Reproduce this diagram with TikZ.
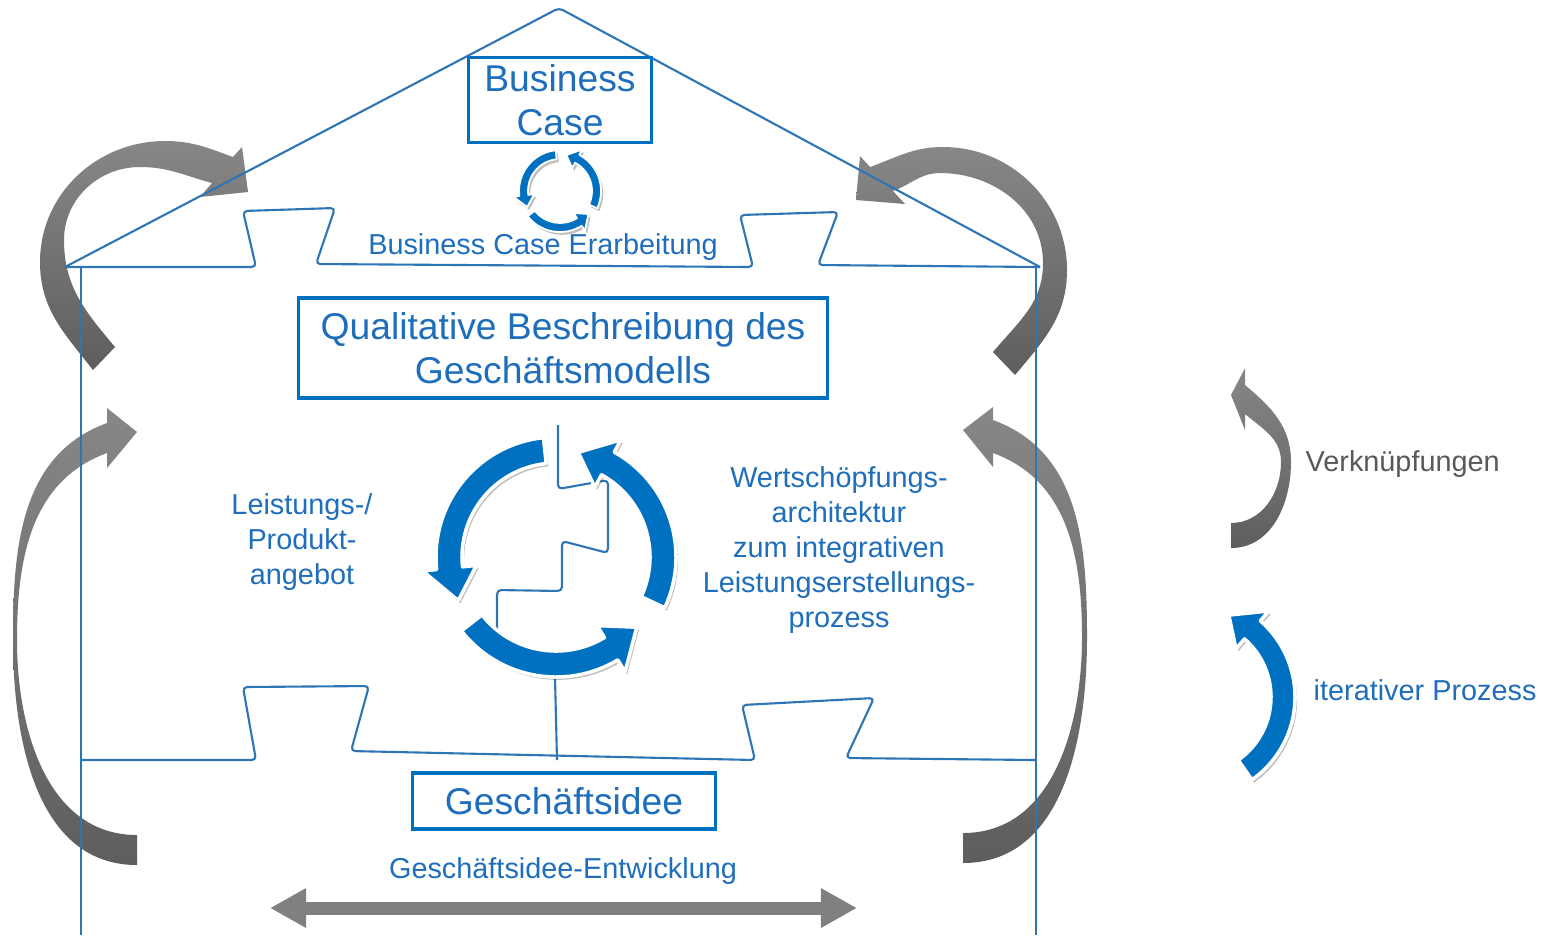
\documentclass[tikz,border=0pt]{standalone}
\usepackage{fontspec}
\setmainfont{Liberation Sans}
\usetikzlibrary{calc,shadows,arrows.meta}

\definecolor{cycblue}{HTML}{0070C0}
\definecolor{houseblue}{HTML}{2E75B6}
\definecolor{txtblue}{HTML}{1F6EBC}
\definecolor{txtgrey}{HTML}{595959}
\definecolor{greyhi}{HTML}{878787}
\definecolor{greylo}{HTML}{5E5E5E}
\definecolor{devgrey}{HTML}{808080}

\newcommand{\cyclearrow}[8][]{%
	\pgfmathsetmacro{\cycmid}{(#3+#4)/2}%
	\pgfmathsetmacro{\cychi}{#4+#8}%
	\pgfmathsetmacro{\cyclo}{#3-#8}%
	\path[cycarrow,#1] ($(#2)+(#5:#4)$) arc[start angle=#5, end angle=#6, radius=#4]
		-- ($(#2)+(#6:\cychi)$) -- ($(#2)+(#7:\cycmid)$) -- ($(#2)+(#6:\cyclo)$)
		-- ($(#2)+(#6:#3)$) arc[start angle=#6, end angle=#5, radius=#3] -- cycle;}

\begin{document}
\begin{tikzpicture}[x=0.01cm, y=0.01cm,
		houseline/.style={draw=houseblue, line width=0.6pt, rounded corners=1.2pt},
		titlebox/.style={draw=cycblue, line width=0.9pt, text=txtblue, align=center, inner sep=0pt, font=\fontsize{10.6}{12.5}\selectfont},
		lbltext/.style={text=txtblue, align=center, inner sep=0pt, font=\fontsize{8.2}{9.96}\selectfont},
		cycarrow/.style={fill=cycblue, draw=white, line width=1pt, line join=round, drop shadow={shadow xshift=0.6pt, shadow yshift=-0.8pt, opacity=0.25, fill=black}},
		linkarrow/.style={top color=greyhi, bottom color=greylo, draw=none}]
	\useasboundingbox (0,0) rectangle (1552,-935);

	\path[linkarrow] (93,-370) to[out=128,in=-90] (40,-262) to[out=90,in=180] (165,-141) to[out=0,in=160] (233,-157) -- (242,-147) -- (248,-192) -- (200,-197) -- (212,-183) to[out=165,in=0] (140,-167) to[out=180,in=90] (64,-240) to[out=-90,in=130] (115,-347) -- cycle;
	\path[linkarrow] (1015,-375) to[out=50,in=-90] (1067,-270) to[out=90,in=0] (943,-147) to[out=180,in=20] (870,-167) -- (860,-156) -- (856,-200) -- (905,-204) -- (893,-191) to[out=20,in=180] (940,-173) to[out=0,in=90] (1043,-263) to[out=-90,in=50] (993,-352) -- cycle;
	\path[linkarrow] (137,-865) to[out=180,in=-90] (13,-640) to[out=90,in=200] (107,-423) -- (107,-408) -- (137,-432) -- (107,-468) -- (107,-453) to[out=200,in=90] (17,-640) to[out=-90,in=180] (137,-835) -- cycle;
	\path[linkarrow] (963,-863) to[out=0,in=-90] (1087,-637) to[out=90,in=-20] (993,-420) -- (993,-407) -- (963,-430) -- (993,-467) -- (993,-453) to[out=-20,in=90] (1082,-637) to[out=-90,in=0] (963,-833) -- cycle;
	\path[linkarrow] (1231,-548) to[out=0,in=-90] (1291,-462) to[out=90,in=-40] (1245,-385) -- (1245,-368) -- (1231,-395) -- (1245,-430) -- (1245,-414) to[out=-40,in=90] (1281,-462) to[out=-90,in=0] (1231,-523) -- cycle;

	\draw[houseline] (65,-267) -- (559,-8) -- (1040,-267);
	\draw[houseline] (81,-267) -- (81,-935);
	\draw[houseline] (1036,-267) -- (1036,-935);
	\draw[houseline] (65,-267) -- (256,-267) -- (243,-211) -- (335,-208) -- (316,-264) -- (753,-267) -- (740,-215) -- (838,-212) -- (818,-265) -- (1040,-267);
	\draw[houseline] (81,-760) -- (256,-760) -- (243,-687) -- (369,-686) -- (351,-751) -- (755,-760) -- (742,-705) -- (874,-698) -- (846,-758) -- (1036,-760);
	\draw[houseline] (558,-425) -- (558,-489) -- (608,-480) -- (608,-553) -- (562,-541) -- (562,-591) -- (497,-590) -- (497,-640);
	\draw[houseline] (555,-678) -- (557,-760);

	\coordinate (smallcyc) at (560,-191);
	\coordinate (bigcyc) at (556,-557);
	\coordinate (legcyc) at (1194,-697);

	\cyclearrow[line width=0.5pt]{smallcyc}{32}{41}{96}{187}{206}{6}
	\cyclearrow[line width=0.5pt]{smallcyc}{32}{41}{218}{302}{321}{6}
	\cyclearrow[line width=0.5pt]{smallcyc}{32}{41}{335}{422}{440}{6}
	\cyclearrow{bigcyc}{94}{120}{96}{186}{204}{14}
	\cyclearrow{bigcyc}{94}{120}{218}{301}{319}{14}
	\cyclearrow{bigcyc}{94}{120}{335}{421}{438}{14}
	\cyclearrow{legcyc}{77}{101}{-55}{49}{67}{13}

	\draw (560,-100) 	node[titlebox, minimum width=1.83cm, minimum height=0.85cm] 	(bcase) 	{Business\\Case};
	\draw (563,-348) 	node[titlebox, minimum width=5.29cm, minimum height=1.0cm] 	(quali) 	{Qualitative Beschreibung des\\Geschäftsmodells};
	\draw (564,-801) 	node[titlebox, minimum width=3.03cm, minimum height=0.56cm] 	(idee) 		{Geschäftsidee};

	\draw (543,-247) 	node[lbltext] 	(bcwork) 	{Business Case Erarbeitung};
	\draw (302,-542) 	node[lbltext] 	(offer) 	{Leistungs-/\\Produkt-\\angebot};
	\draw (839,-550) 	node[lbltext] 	(chain) 	{Wertschöpfungs-\\architektur\\zum integrativen\\Leistungserstellungs-\\prozess};
	\draw (563,-871) 	node[lbltext] 	(ideadev) 	{Geschäftsidee-Entwicklung};
	\draw (1305,-471) 	node[lbltext, anchor=base west, text=txtgrey] 	(linklbl) 	{Verknüpfungen};
	\draw (1313,-700) 	node[lbltext, anchor=base west] 	(iterlbl) 	{iterativer Prozess};

	\coordinate (devL) at (270,-908);
	\coordinate (devR) at (857,-908);
	\draw[devgrey, line width=0.13cm, {Triangle[length=0.36cm, width=0.37cm]}-{Triangle[length=0.36cm, width=0.37cm]}] (devL) -- (devR);
\end{tikzpicture}
\end{document}
